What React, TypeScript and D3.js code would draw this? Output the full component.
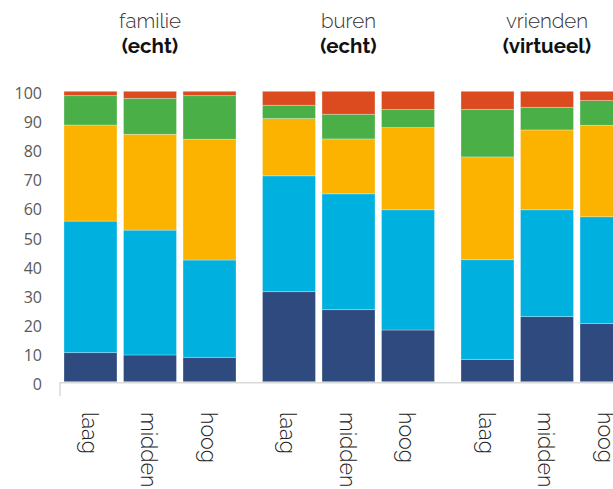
import * as d3 from 'd3';

// groups and bars
const groups = ['familie|(echt)', 'buren|(echt)', 'vrienden|(virtueel)'];
const levels = ['laag', 'midden', 'hoog'];
const yTicks = [0, 10, 20, 30, 40, 50, 60, 70, 80, 90, 100];

// stacked series, bottom to top, one value per bar (group x level)
const seriesKeys = ['s1', 's2', 's3', 's4', 's5'];
const s1 = [10, 9.2, 8.4, 31, 24.8, 17.8, 7.7, 22.4, 20];
const s2 = [45.3, 43, 33.5, 39.9, 39.9, 41.4, 34.3, 36.8, 36.8];
const s3 = [33.1, 33, 41.6, 19.7, 18.9, 28.3, 35.4, 27.5, 31.5];
const s4 = [10.1, 12.4, 15, 4.6, 8.5, 6.2, 16.4, 7.8, 8.5];
const s5 = [1.5, 2.4, 1.5, 4.8, 7.9, 6.3, 6.2, 5.5, 3.2];
const colors = ['#2e4a7f', '#00b1e0', '#fbb300', '#4baf47', '#dc4a20'];

const W = 613;
const H = 489;

export default function App() {
  const rows = groups.flatMap((g, gi) =>
    levels.map((l, li) => {
      const i = gi * 3 + li;
      return { group: g, level: l, s1: s1[i], s2: s2[i], s3: s3[i], s4: s4[i], s5: s5[i] };
    })
  );

  const stack = d3.stack<any>().keys(seriesKeys);
  const layers = stack(rows);

  const y = d3.scaleLinear().domain([0, 100]).range([381.7, 91.3]);
  const x0 = d3.scaleBand().domain(groups).range([64, 633]).paddingInner(0.1335).paddingOuter(0);
  const x1 = d3.scaleBand().domain(levels).range([0, x0.bandwidth()]).paddingInner(0.11).paddingOuter(0);

  const titleFont = 'Raleway, Lato, "Open Sans", sans-serif';

  return (
    <svg width={W} height={H} style={{ position: 'absolute', left: 0, top: 0, display: 'block', background: '#fff' }}>
      {/* y axis labels */}
      <g fontFamily='"Open Sans", Carlito, sans-serif' fontSize={16} fill="#595959" textAnchor="end">
        {yTicks.map(t => (
          <text key={t} x={42} y={y(t)} dy="0.5em">{t}</text>
        ))}
      </g>

      {/* bars */}
      {layers.map((layer, si) => (
        <g key={layer.key} fill={colors[si]}>
          {layer.map((d, i) => {
            const r = rows[i];
            const bx = (x0(r.group) ?? 0) + (x1(r.level) ?? 0);
            return (
              <rect
                key={i}
                x={bx}
                y={y(d[1])}
                width={x1.bandwidth()}
                height={y(d[0]) - y(d[1])}
                stroke="#ffffff"
                strokeOpacity={0.35}
                strokeWidth={0.8}
              />
            );
          })}
        </g>
      ))}

      {/* baseline */}
      <line x1={60} x2={W} y1={382.7} y2={382.7} stroke="#d9d9d9" strokeWidth={1.5} />
      <line x1={60} x2={60} y1={382} y2={396} stroke="#d9d9d9" strokeWidth={1.5} />

      {/* group titles */}
      {groups.map(g => {
        const [a, b] = g.split('|');
        const cx = (x0(g) ?? 0) + x0.bandwidth() / 2;
        return (
          <g key={g} fontFamily={titleFont} textAnchor="middle">
            <text x={cx} y={28} fontSize={20.5} fontWeight={300} fill="#333">{a}</text>
            <text x={cx} y={53} fontSize={20.5} fontWeight={700} fill="#111">{b}</text>
          </g>
        );
      })}

      {/* category labels, rotated */}
      {rows.map((r, i) => {
        const cx = (x0(r.group) ?? 0) + (x1(r.level) ?? 0) + x1.bandwidth() / 2;
        return (
          <text
            key={i}
            transform={`translate(${cx},412) rotate(90)`}
            dy="0.4em"
            fontFamily={titleFont}
            fontSize={21.5}
            fontWeight={300}
            fill="#222"
          >
            {r.level}
          </text>
        );
      })}
    </svg>
  );
}
